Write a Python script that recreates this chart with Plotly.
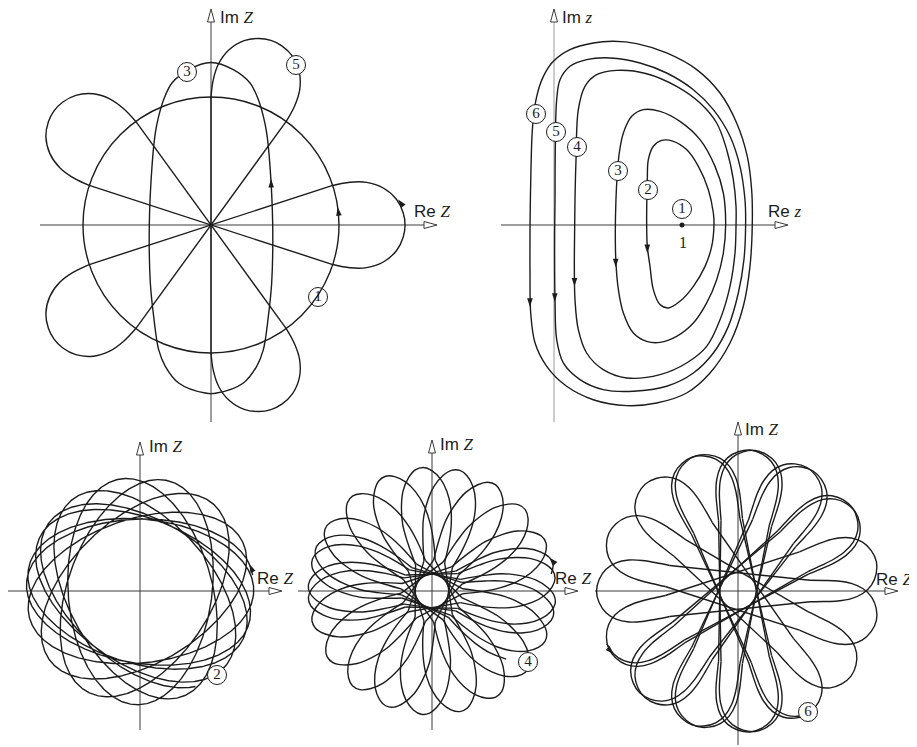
import numpy as np
import plotly.graph_objects as go

W, H = 917, 747
OFF = 8            # the page body adds an 8 px margin; positions below are reference pixels
INK = "#1c1c1c"
AXIS_INK = "#3a3a3a"
SERIF = "Liberation Serif"
SANS = "Liberation Sans"

# ======================= DATA =======================
# Panel A - Z plane, closed trajectories (1), (3), (5); unit = radius of circle (1)
CIRCLE1_R = 1.0
OVAL3_X = [0.482, 0.474, 0.448, 0.409, 0.357, 0.253, 0.044, -0.044, -0.253, -0.357,
           -0.409, -0.448, -0.474, -0.482, -0.461, -0.435, -0.409, -0.370, -0.305,
           -0.174, 0.0, 0.174, 0.305, 0.370, 0.409, 0.435, 0.461, 0.482]
OVAL3_Y = [0.0, -0.453, -0.714, -0.974, -1.104, -1.234, -1.313, -1.313, -1.234, -1.104,
           -0.974, -0.714, -0.453, 0.0, 0.458, 0.719, 0.849, 0.979, 1.109,
           1.214, 1.27, 1.214, 1.109, 0.979, 0.849, 0.719, 0.458, 0.0]
# one loop of trajectory (5), petal axis along +x (local frame)
CAP5_X = [0.951, 1.086, 1.216, 1.346, 1.450, 1.502, 1.516, 1.502, 1.450, 1.346, 1.216, 1.086, 0.951]
CAP5_Y = [-0.309, -0.334, -0.333, -0.289, -0.199, -0.094, 0.0, 0.094, 0.199, 0.289, 0.333, 0.334, 0.309]
PETAL5_DIRS = [0, 216, 72, 288, 144]          # degrees, in order of traversal

# Panel B - z plane, closed orbits 2..6 around the fixed point z = 1
FIXED_POINT = (1.0, 0.0)
ORBIT2_X = [0.724, 0.729, 0.737, 0.776, 0.841, 0.932, 1.036, 1.128, 1.206, 1.245, 1.25, 1.232,
            1.18, 1.089, 0.984, 0.893, 0.828, 0.776, 0.75, 0.729, 0.724]
ORBIT2_Y = [0.0, 0.354, 0.51, 0.615, 0.661, 0.654, 0.589, 0.458, 0.276, 0.094, 0.0, -0.167,
            -0.323, -0.479, -0.596, -0.648, -0.622, -0.505, -0.323, -0.167, 0.0]
ORBIT3_X = [0.495, 0.510, 0.542, 0.607, 0.698, 0.828, 0.984, 1.141, 1.258, 1.323, 1.341, 1.323,
            1.271, 1.193, 1.089, 0.958, 0.828, 0.724, 0.620, 0.542, 0.503, 0.484, 0.479, 0.484, 0.495]
ORBIT3_Y = [0.406, 0.5625, 0.719, 0.849, 0.901, 0.888, 0.810, 0.667, 0.458, 0.25, 0.0, -0.219,
            -0.427, -0.609, -0.766, -0.870, -0.917, -0.909, -0.844, -0.6875, -0.505, -0.297,
            -0.0625, 0.198, 0.406]
ORBIT4_X = [0.172, 0.190, 0.242, 0.333, 0.490, 0.724, 0.958, 1.141, 1.271, 1.349, 1.401, 1.422,
            1.422, 1.414, 1.375, 1.297, 1.193, 1.036, 0.828, 0.568, 0.385, 0.255, 0.190, 0.164,
            0.159, 0.161, 0.164, 0.172]
ORBIT4_Y = [0.510, 0.901, 1.083, 1.174, 1.208, 1.182, 1.083, 0.953, 0.797, 0.589, 0.354, 0.146,
            0.0, -0.219, -0.479, -0.740, -0.948, -1.078, -1.169, -1.195, -1.130, -1.0, -0.818,
            -0.583, -0.323, -0.0625, 0.198, 0.510]
ORBIT5_X = [0.010, 0.021, 0.047, 0.125, 0.255, 0.4375, 0.672, 0.880, 1.089, 1.245, 1.375, 1.453,
            1.492, 1.497, 1.484, 1.440, 1.362, 1.245, 1.089, 0.880, 0.620, 0.385, 0.203, 0.073,
            0.021, 0.008, 0.005, 0.005, 0.008, 0.010]
ORBIT5_Y = [0.589, 0.979, 1.135, 1.240, 1.292, 1.305, 1.266, 1.1875, 1.057, 0.901, 0.693, 0.458,
            0.198, 0.0, -0.271, -0.531, -0.792, -1.0, -1.156, -1.260, -1.299, -1.286, -1.208,
            -1.078, -0.896, -0.583, -0.323, -0.0625, 0.198, 0.589]
ORBIT6_X = [-0.167, -0.135, -0.083, -0.005, 0.125, 0.307, 0.464, 0.646, 0.880, 1.115, 1.297,
            1.427, 1.510, 1.544, 1.549, 1.531, 1.479, 1.375, 1.219, 1.036, 0.802, 0.568, 0.307,
            0.099, -0.057, -0.148, -0.182, -0.1875, -0.1875, -0.182, -0.167]
ORBIT6_Y = [0.771, 1.005, 1.161, 1.279, 1.370, 1.422, 1.435, 1.417, 1.344, 1.214, 1.031, 0.797,
            0.536, 0.276, 0.0, -0.323, -0.635, -0.922, -1.156, -1.3125, -1.391, -1.411, -1.365,
            -1.260, -1.104, -0.922, -0.6875, -0.375, -0.0625, 0.328, 0.771]

# Panel C - trajectory (2): slowly turning ellipse
C2_SEMI_MAJOR = 1.25
C2_SEMI_MINOR = 0.79
C2_START_DIR = 8.0          # deg, direction of the major axis at the start
C2_TURN_PER_REV = -25.0     # deg the ellipse turns per revolution
C2_REVOLUTIONS = 9.45

# Panel D - trajectory (4): one loop (local frame) and loop directions in order
PETAL4_X = [0.30, 0.50, 0.70, 0.90, 1.08, 1.22, 1.32, 1.36, 1.34, 1.26, 1.12, 0.95, 0.75, 0.55, 0.30]
PETAL4_Y = [-0.16, -0.22, -0.26, -0.27, -0.24, -0.18, -0.09, 0.00, 0.09, 0.17, 0.24, 0.27, 0.27, 0.23, 0.16]
PETAL4_DIRS = [12, 183, -6, 165, -24, 148, -41, 130, -59, 112, -77, 94, -95, 77, -112, 59,
               -130, 41, -148, 23, -166, 6, -183, -12, -201, -30]

# Panel E - trajectory (6): one loop (local frame) and loop directions in order
PETAL6_X = [0.75, 0.90, 1.05, 1.20, 1.34, 1.45, 1.525, 1.555, 1.525, 1.45, 1.34, 1.20, 1.05, 0.90, 0.75]
PETAL6_Y = [-0.28, -0.31, -0.335, -0.34, -0.31, -0.24, -0.13, 0.00, 0.13, 0.24, 0.31, 0.34, 0.335, 0.31, 0.28]
PETAL6_DIRS = [-158, 34, -134, 58, -109, 83, -85, 107, -61, 131, -37, 156, -12, 180, 12,
               -156, 36, -131, 61, -107, 85, -83, 109, -59]

# ======================= LAYOUT GEOMETRY (reference pixels) =======================
PANELS = {
    "A": dict(ax=("x", "y"), box=(36, 442, 8, 426), origin=(211, 225), scale=128,
              xaxis=(40, 437), yaxis=(422, 9), ycol=AXIS_INK),
    "B": dict(ax=("x2", "y2"), box=(497, 792, 8, 426), origin=(554, 225), scale=128,
              xaxis=(501, 788), yaxis=(422, 9), ycol="#9a9a9a"),
    "C": dict(ax=("x3", "y3"), box=(8, 286, 437, 734), origin=(140, 591), scale=91,
              xaxis=(8, 282), yaxis=(730, 442), ycol=AXIS_INK),
    "D": dict(ax=("x4", "y4"), box=(294, 583, 436, 734), origin=(432, 591), scale=91,
              xaxis=(298, 578), yaxis=(730, 440), ycol=AXIS_INK),
    "E": dict(ax=("x5", "y5"), box=(592, 903, 417, 747), origin=(738, 591), scale=91,
              xaxis=(595, 898), yaxis=(745, 422), ycol=AXIS_INK),
}


def px2u(p, px, py):
    ox, oy = PANELS[p]["origin"]
    s = PANELS[p]["scale"]
    return (px - ox) / s, (oy - py) / s


def rot(xs, ys, deg):
    a = np.radians(deg)
    xs, ys = np.asarray(xs, float), np.asarray(ys, float)
    return xs * np.cos(a) - ys * np.sin(a), xs * np.sin(a) + ys * np.cos(a)


def loops_and_chords(lx, ly, dirs, first_from=0, last_upto=None):
    """Loops (smooth) placed along dirs; consecutive loops joined by straight chords."""
    cx, cy, sx, sy = [], [], [], []
    prev = None
    n = len(dirs)
    for k, d in enumerate(dirs):
        x, y = rot(lx, ly, d)
        lo = first_from if k == 0 else 0
        hi = last_upto if (k == n - 1 and last_upto is not None) else len(x)
        x, y = x[lo:hi], y[lo:hi]
        if prev is not None:
            sx += [prev[0], x[0], None]
            sy += [prev[1], y[0], None]
        cx += list(x) + [None]
        cy += list(y) + [None]
        prev = (x[-1], y[-1])
    return cx, cy, sx, sy


def marker_angle(dx, dy):
    return 90.0 - np.degrees(np.arctan2(dy, dx))


fig = go.Figure()
shapes, annotations = [], []
LW = 1.4


def curve(p, x, y, shape="linear"):
    xa, ya = PANELS[p]["ax"]
    fig.add_trace(go.Scatter(x=x, y=y, mode="lines", xaxis=xa, yaxis=ya,
                             line=dict(color=INK, width=LW, shape=shape, smoothing=1.0),
                             hoverinfo="skip", showlegend=False))


def arrows(p, pts):
    xa, ya = PANELS[p]["ax"]
    fig.add_trace(go.Scatter(x=[q[0] for q in pts], y=[q[1] for q in pts], mode="markers",
                             xaxis=xa, yaxis=ya, cliponaxis=False,
                             marker=dict(symbol="arrow", size=9, color=INK,
                                         angle=[q[2] for q in pts], line=dict(width=0)),
                             hoverinfo="skip", showlegend=False))


def circled(p, items):
    xa, ya = PANELS[p]["ax"]
    xs, ys, ts = [], [], []
    for (px, py, t) in items:
        u, v = px2u(p, px, py)
        xs.append(u); ys.append(v); ts.append(t)
    fig.add_trace(go.Scatter(x=xs, y=ys, text=ts, mode="markers+text", xaxis=xa, yaxis=ya,
                             cliponaxis=False, textposition="middle center",
                             textfont=dict(family=SERIF, size=15, color=INK),
                             marker=dict(symbol="circle", size=19, color="white",
                                         line=dict(color=INK, width=1)),
                             hoverinfo="skip", showlegend=False))


# ---------------- Panel A ----------------
shapes.append(dict(type="circle", xref="x", yref="y", x0=-CIRCLE1_R, y0=-CIRCLE1_R,
                   x1=CIRCLE1_R, y1=CIRCLE1_R, line=dict(color=INK, width=LW), layer="above"))
curve("A", OVAL3_X, OVAL3_Y, "spline")
c5x, c5y, s5x, s5y = loops_and_chords(CAP5_X, CAP5_Y, PETAL5_DIRS + [PETAL5_DIRS[0]], last_upto=1)
curve("A", c5x, c5y, "spline")
curve("A", s5x, s5y)
arrows("A", [(np.cos(np.radians(8)), np.sin(np.radians(8)), -8),
             (0.470, 0.36, 0),
             (1.462, 0.20, -38)])
circled("A", [(187, 72, "3"), (296, 65, "5"), (318, 297, "1")])

# ---------------- Panel B ----------------
for ox_, oy_ in [(ORBIT2_X, ORBIT2_Y), (ORBIT3_X, ORBIT3_Y), (ORBIT4_X, ORBIT4_Y),
                 (ORBIT5_X, ORBIT5_Y), (ORBIT6_X, ORBIT6_Y)]:
    curve("B", ox_, oy_, "spline")
fig.add_trace(go.Scatter(x=[FIXED_POINT[0]], y=[FIXED_POINT[1]], mode="markers",
                         xaxis="x2", yaxis="y2", marker=dict(size=5, color=INK),
                         hoverinfo="skip", showlegend=False))
arrows("B", [(0.729, -0.22, 180), (0.482, -0.33, 180), (0.160, -0.48, 180),
             (0.006, -0.60, 180), (-0.188, -0.64, 180)])
circled("B", [(536, 114, "6"), (556, 132, "5"), (577, 147, "4"), (618, 171, "3"),
              (648, 190, "2"), (682, 209, "1")])

# ---------------- Panel C ----------------
t = np.linspace(0.0, 2 * np.pi * C2_REVOLUTIONS, 4000)
phi = np.radians(C2_START_DIR + C2_TURN_PER_REV * t / (2 * np.pi))
ex, ey = C2_SEMI_MAJOR * np.cos(t), C2_SEMI_MINOR * np.sin(t)
x2 = ex * np.cos(phi) - ey * np.sin(phi)
y2 = ex * np.sin(phi) + ey * np.cos(phi)
curve("C", x2, y2)
arrows("C", [(x2[12], y2[12], marker_angle(x2[18] - x2[6], y2[18] - y2[6]))])
circled("C", [(217, 675, "2")])

# ---------------- Panel D ----------------
c4x, c4y, s4x, s4y = loops_and_chords(PETAL4_X, PETAL4_Y, PETAL4_DIRS, first_from=6, last_upto=5)
curve("D", c4x, c4y, "spline")
curve("D", s4x, s4y)
ax4, ay4 = rot(PETAL4_X, PETAL4_Y, PETAL4_DIRS[0])
arrows("D", [(ax4[8], ay4[8], marker_angle(ax4[9] - ax4[7], ay4[9] - ay4[7]))])
circled("D", [(528, 662, "4")])

# ---------------- Panel E ----------------
c6x, c6y, s6x, s6y = loops_and_chords(PETAL6_X, PETAL6_Y, PETAL6_DIRS, first_from=7, last_upto=8)
curve("E", c6x, c6y, "spline")
curve("E", s6x, s6y)
ax6, ay6 = rot(PETAL6_X, PETAL6_Y, PETAL6_DIRS[0])
arrows("E", [(ax6[8], ay6[8], marker_angle(ax6[9] - ax6[7], ay6[9] - ay6[7]))])
circled("E", [(808, 712, "6")])

# ---------------- axes with open arrow heads ----------------
AH_L, AH_W = 13, 3.5
layout_axes = {}
for name, p in PANELS.items():
    xa, ya = p["ax"]
    x0, x1, y0, y1 = p["box"]
    ox, oy = p["origin"]
    s = p["scale"]
    kx = "xaxis" + xa[1:]
    ky = "yaxis" + ya[1:]
    layout_axes[kx] = dict(domain=[(x0 - OFF) / W, (x1 - OFF) / W], range=[(x0 - ox) / s, (x1 - ox) / s],
                           visible=False, fixedrange=True, anchor=ya)
    layout_axes[ky] = dict(domain=[1 - (y1 - OFF) / H, 1 - (y0 - OFF) / H],
                           range=[(oy - y1) / s, (oy - y0) / s],
                           visible=False, fixedrange=True, anchor=xa)
    xf, xt = p["xaxis"]
    yf, yt = p["yaxis"]
    shapes.append(dict(type="line", xref=xa, yref=ya, x0=(xf - ox) / s, y0=0,
                       x1=(xt - AH_L - ox) / s, y1=0, line=dict(color=AXIS_INK, width=1), layer="below"))
    shapes.append(dict(type="path", xref=xa, yref=ya, xsizemode="pixel", ysizemode="pixel",
                       xanchor=(xt - ox) / s, yanchor=0,
                       path=f"M 0 0 L {-AH_L} {AH_W} L {-AH_L} {-AH_W} Z",
                       fillcolor="white", line=dict(color=AXIS_INK, width=1)))
    shapes.append(dict(type="line", xref=xa, yref=ya, x0=0, y0=(oy - yf) / s,
                       x1=0, y1=(oy - yt - AH_L) / s, line=dict(color=p["ycol"], width=1), layer="below"))
    shapes.append(dict(type="path", xref=xa, yref=ya, xsizemode="pixel", ysizemode="pixel",
                       xanchor=0, yanchor=(oy - yt) / s,
                       path=f"M 0 0 L {-AH_W} {-AH_L} L {AH_W} {-AH_L} Z",
                       fillcolor="white", line=dict(color=AXIS_INK, width=1)))


def label(px, py, html, size=17, family=SANS):
    annotations.append(dict(x=(px - OFF) / W, y=1 - (py - OFF) / H, xref="paper", yref="paper",
                            text=html, showarrow=False, xanchor="left", yanchor="middle",
                            font=dict(family=family, size=size, color=INK)))


ZI = f'<span style="font-family:{SERIF}"><i>Z</i></span>'
zi = f'<span style="font-family:{SERIF}"><i>z</i></span>'
label(218, 17, "Im " + ZI)
label(412, 211, "Re " + ZI)
label(560, 17, "Im " + zi)
label(766, 211, "Re " + zi)
label(677, 242, "1", size=16, family=SERIF)
label(147, 446, "Im " + ZI)
label(255, 578, "Re " + ZI)
label(438, 444, "Im " + ZI)
label(553, 578, "Re " + ZI)
label(743, 429, "Im " + ZI)
label(874, 579, "Re " + ZI)

fig.update_layout(width=W, height=H, margin=dict(l=0, r=0, t=0, b=0),
                  paper_bgcolor="white", plot_bgcolor="white", showlegend=False,
                  shapes=shapes, annotations=annotations, **layout_axes)
fig.write_html("out.html")
